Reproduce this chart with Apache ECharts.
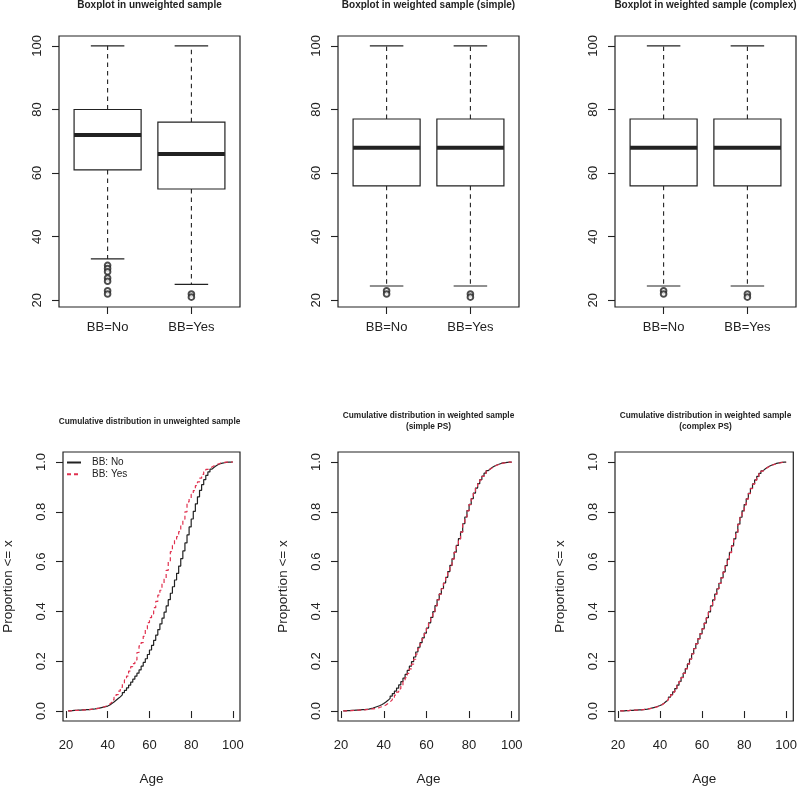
<!DOCTYPE html>
<html><head><meta charset="utf-8">
<script src="https://cdn.jsdelivr.net/npm/echarts@6/dist/echarts.min.js"></script>
<style>html,body{margin:0;padding:0;background:#fff}#c{width:800px;height:787px}</style>
</head><body><div id="c"></div>
<script>
// ---------- Data ----------
const boxCategories = ['BB=No', 'BB=Yes'];
const boxTitles = ['Boxplot in unweighted sample', 'Boxplot in weighted sample (simple)', 'Boxplot in weighted sample (complex)'];
// [lower whisker, Q1, median, Q3, upper whisker]
const boxUnweighted = [[33, 61, 72, 80, 100], [25, 55, 66, 76, 100]];
const boxWeightedSimple = [[24.5, 56, 68, 77, 100], [24.5, 56, 68, 77, 100]];
const boxWeightedComplex = [[24.5, 56, 68, 77, 100], [24.5, 56, 68, 77, 100]];
const outUnweighted = [[31, 30, 29, 27, 26, 23, 22], [22, 21]];
const outWeightedSimple = [[23, 22], [22, 21]];
const outWeightedComplex = [[23, 22], [22, 21]];
const boxYTicks = [20, 40, 60, 80, 100];

const cdfTitles = ['Cumulative distribution in unweighted sample',
  'Cumulative distribution in weighted sample\n(simple PS)',
  'Cumulative distribution in weighted sample\n(complex PS)'];
const seriesNames = ['BB: No', 'BB: Yes'];
const ages = [21,22,23,24,25,26,27,28,29,30,31,32,33,34,35,36,37,38,39,40,
  41,42,43,44,45,46,47,48,49,50,51,52,53,54,55,56,57,58,59,60,
  61,62,63,64,65,66,67,68,69,70,71,72,73,74,75,76,77,78,79,80,
  81,82,83,84,85,86,87,88,89,90,91,92,93,94,95,96,97,98,99,100];
const cdfUnweightedNo = [0.001,0.002,0.003,0.003,0.004,0.004,0.005,0.005,0.006,0.006,0.007,0.008,0.009,0.011,0.012,0.014,0.016,0.018,0.020,0.024,
  0.030,0.036,0.043,0.050,0.057,0.065,0.074,0.083,0.093,0.104,0.116,0.128,0.140,0.152,0.165,0.180,0.195,0.210,0.227,0.245,
  0.264,0.284,0.305,0.327,0.350,0.373,0.397,0.422,0.447,0.473,0.499,0.526,0.553,0.582,0.612,0.643,0.675,0.707,0.739,0.771,
  0.802,0.832,0.860,0.886,0.909,0.929,0.946,0.960,0.971,0.979,0.985,0.990,0.993,0.995,0.997,0.998,0.999,0.9995,0.9998,1.0];
const cdfUnweightedYes = [0.001,0.002,0.002,0.003,0.003,0.004,0.004,0.005,0.005,0.006,0.007,0.008,0.009,0.010,0.012,0.014,0.016,0.019,0.022,0.028,
  0.036,0.045,0.055,0.066,0.080,0.095,0.110,0.125,0.140,0.160,0.178,0.190,0.205,0.235,0.262,0.275,0.300,0.330,0.355,0.375,
  0.390,0.415,0.440,0.465,0.485,0.510,0.530,0.565,0.600,0.640,0.665,0.685,0.700,0.720,0.745,0.770,0.800,0.840,0.855,0.870,
  0.885,0.905,0.920,0.935,0.950,0.960,0.970,0.975,0.980,0.985,0.989,0.992,0.995,0.997,0.998,0.999,0.9995,0.9997,0.9999,1.0];
const cdfSimpleNo = [0.001,0.002,0.002,0.003,0.003,0.004,0.004,0.005,0.006,0.006,0.007,0.008,0.010,0.012,0.015,0.018,0.021,0.025,0.030,0.036,
  0.043,0.051,0.060,0.070,0.080,0.092,0.105,0.118,0.132,0.147,0.163,0.180,0.198,0.217,0.237,0.256,0.275,0.294,0.313,0.333,
  0.354,0.376,0.399,0.423,0.447,0.470,0.492,0.514,0.537,0.560,0.585,0.611,0.638,0.665,0.692,0.719,0.752,0.779,0.805,0.830,
  0.853,0.875,0.895,0.913,0.929,0.943,0.955,0.965,0.973,0.979,0.984,0.988,0.991,0.994,0.996,0.997,0.998,0.999,0.9995,1.0];
const cdfSimpleYes = [0.0005,0.001,0.0015,0.002,0.0025,0.003,0.0035,0.004,0.0045,0.005,0.006,0.007,0.008,0.009,0.010,0.012,0.014,0.017,0.020,0.024,
  0.030,0.037,0.045,0.054,0.064,0.076,0.089,0.103,0.118,0.134,0.151,0.169,0.188,0.208,0.229,0.251,0.271,0.291,0.311,0.331,
  0.353,0.375,0.398,0.422,0.446,0.469,0.491,0.513,0.536,0.559,0.584,0.610,0.637,0.664,0.691,0.718,0.751,0.778,0.804,0.829,
  0.852,0.874,0.894,0.912,0.928,0.942,0.954,0.964,0.972,0.978,0.983,0.987,0.990,0.993,0.995,0.997,0.998,0.999,0.9995,1.0];
const cdfComplexNo = [0.001,0.001,0.002,0.002,0.003,0.003,0.004,0.004,0.005,0.005,0.006,0.007,0.008,0.010,0.012,0.014,0.016,0.019,0.022,0.026,
  0.032,0.039,0.047,0.056,0.066,0.077,0.090,0.104,0.119,0.135,0.152,0.170,0.189,0.209,0.230,0.251,0.271,0.291,0.311,0.331,
  0.353,0.375,0.398,0.422,0.446,0.469,0.491,0.513,0.536,0.559,0.584,0.610,0.637,0.664,0.691,0.718,0.751,0.778,0.804,0.829,
  0.852,0.874,0.894,0.912,0.928,0.942,0.954,0.964,0.972,0.978,0.983,0.987,0.990,0.993,0.995,0.997,0.998,0.999,0.9995,1.0];
const cdfComplexYes = [0.001,0.001,0.002,0.002,0.003,0.003,0.004,0.004,0.005,0.005,0.006,0.007,0.008,0.010,0.011,0.013,0.016,0.018,0.021,0.025,
  0.031,0.038,0.046,0.055,0.065,0.076,0.089,0.103,0.118,0.134,0.151,0.169,0.188,0.208,0.229,0.250,0.270,0.290,0.310,0.330,
  0.352,0.374,0.397,0.421,0.445,0.468,0.490,0.512,0.535,0.558,0.583,0.609,0.636,0.663,0.690,0.717,0.750,0.777,0.803,0.828,
  0.851,0.873,0.893,0.911,0.927,0.941,0.953,0.963,0.971,0.977,0.982,0.986,0.989,0.992,0.994,0.996,0.998,0.999,0.9995,1.0];
const cdfXTicks = [20, 40, 60, 80, 100];
const cdfYTicks = [0, 0.2, 0.4, 0.6, 0.8, 1.0];

// ---------- Layout / style ----------
const FONT = 'Liberation Sans, Arial, sans-serif';
const INK = '#222';
const RED = '#E0314F';
const panelLeft = [59, 338, 615];
const panelWidth = 181;
const topRow = {top: 36, height: 271};
const botRow = {top: 452, height: 272};

const boxSets = [boxUnweighted, boxWeightedSimple, boxWeightedComplex];
const outSets = [outUnweighted, outWeightedSimple, outWeightedComplex];
const cdfSets = [[cdfUnweightedNo, cdfUnweightedYes], [cdfSimpleNo, cdfSimpleYes], [cdfComplexNo, cdfComplexYes]];

const grids = [], xAxes = [], yAxes = [], series = [], titles = [];

function renderBox(params, api) {
  const x = api.value(0);
  const lo = api.value(1), q1 = api.value(2), med = api.value(3), q3 = api.value(4), hi = api.value(5);
  const half = api.size([0.4, 0])[0];
  const cap = api.size([0.2, 0])[0];
  const pLo = api.coord([x, lo]), pQ1 = api.coord([x, q1]), pMed = api.coord([x, med]);
  const pQ3 = api.coord([x, q3]), pHi = api.coord([x, hi]);
  const cx = pMed[0];
  const dash = {stroke: INK, lineWidth: 1.1, lineDash: [4.5, 4]};
  const solid = {stroke: INK, lineWidth: 1.2};
  return {type: 'group', children: [
    {type: 'line', shape: {x1: cx, y1: pQ3[1], x2: cx, y2: pHi[1]}, style: dash},
    {type: 'line', shape: {x1: cx, y1: pQ1[1], x2: cx, y2: pLo[1]}, style: dash},
    {type: 'line', shape: {x1: cx - cap, y1: pHi[1], x2: cx + cap, y2: pHi[1]}, style: solid},
    {type: 'line', shape: {x1: cx - cap, y1: pLo[1], x2: cx + cap, y2: pLo[1]}, style: solid},
    {type: 'rect', shape: {x: cx - half, y: pQ3[1], width: 2 * half, height: pQ1[1] - pQ3[1]},
      style: {fill: '#fff', stroke: INK, lineWidth: 1.2}},
    {type: 'line', shape: {x1: cx - half, y1: pMed[1], x2: cx + half, y2: pMed[1]},
      style: {stroke: INK, lineWidth: 4}}
  ]};
}

for (let p = 0; p < 3; p++) {
  // ---- top boxplot panel (grid index p) ----
  const gi = p;
  grids[gi] = {left: panelLeft[p], width: panelWidth, top: topRow.top, height: topRow.height,
    show: true, borderColor: INK, borderWidth: 1.2, backgroundColor: 'transparent', containLabel: false};
  xAxes[gi] = {gridIndex: gi, type: 'value', min: 0.42, max: 2.58,
    axisLine: {show: false}, splitLine: {show: false},
    axisTick: {show: true, length: 7, customValues: [1, 2], lineStyle: {color: INK, width: 1.1}},
    axisLabel: {customValues: [1, 2], formatter: v => boxCategories[Math.round(v) - 1],
      fontSize: 13, fontFamily: FONT, color: INK, margin: 14}};
  yAxes[gi] = {gridIndex: gi, type: 'value', min: 17.9, max: 103.1,
    axisLine: {show: false}, splitLine: {show: false},
    axisTick: {show: true, length: 7, customValues: boxYTicks, lineStyle: {color: INK, width: 1.1}},
    axisLabel: {customValues: boxYTicks, rotate: 90, fontSize: 13, fontFamily: FONT, color: INK, margin: 15}};
  series.push({type: 'custom', xAxisIndex: gi, yAxisIndex: gi, renderItem: renderBox,
    encode: {x: 0, y: [1, 2, 3, 4, 5]}, silent: true,
    data: boxSets[p].map((b, i) => [i + 1].concat(b))});
  const outData = [];
  outSets[p].forEach((arr, i) => arr.forEach(v => outData.push([i + 1, v])));
  series.push({type: 'scatter', xAxisIndex: gi, yAxisIndex: gi, symbol: 'emptyCircle', symbolSize: 5.6,
    itemStyle: {color: INK, borderColor: INK, borderWidth: 1}, data: outData, silent: true, z: 5});
  titles.push({text: boxTitles[p], left: panelLeft[p] + panelWidth / 2, top: -1, textAlign: 'center', padding: 0,
    textStyle: {fontSize: 10, fontWeight: 'bold', fontFamily: FONT, color: INK, lineHeight: 12}});

  // ---- bottom CDF panel (grid index p + 3) ----
  const gj = p + 3;
  grids[gj] = {left: panelLeft[p], width: panelWidth, top: botRow.top, height: botRow.height,
    show: true, borderColor: INK, borderWidth: 1.2, backgroundColor: 'transparent', containLabel: false};
  xAxes[gj] = {gridIndex: gj, type: 'value', min: 18.55, max: 103.4,
    name: 'Age', nameLocation: 'middle', nameGap: 51,
    nameTextStyle: {fontSize: 13.5, fontFamily: FONT, color: INK},
    axisLine: {show: false}, splitLine: {show: false},
    axisTick: {show: true, length: 7, customValues: cdfXTicks, lineStyle: {color: INK, width: 1.1}},
    axisLabel: {customValues: cdfXTicks, fontSize: 13, fontFamily: FONT, color: INK, margin: 18}};
  yAxes[gj] = {gridIndex: gj, type: 'value', min: -0.04, max: 1.04,
    name: 'Proportion <= x', nameLocation: 'middle', nameGap: 48, nameRotate: 90,
    nameTextStyle: {fontSize: 13.5, fontFamily: FONT, color: INK},
    axisLine: {show: false}, splitLine: {show: false},
    axisTick: {show: true, length: 7, customValues: cdfYTicks, lineStyle: {color: INK, width: 1.1}},
    axisLabel: {customValues: cdfYTicks, rotate: 90, formatter: v => v.toFixed(1),
      fontSize: 13, fontFamily: FONT, color: INK, margin: 15}};
  cdfSets[p].forEach((vals, k) => {
    series.push({name: seriesNames[k], type: 'line', step: 'end', xAxisIndex: gj, yAxisIndex: gj,
      symbol: 'none', showSymbol: false, silent: true, animation: false,
      color: k === 0 ? INK : RED,
      lineStyle: {color: k === 0 ? INK : RED, width: 1.2, type: k === 0 ? 'solid' : [4, 3]},
      z: k === 0 ? 2 : 3,
      data: ages.map((a, i) => [a, vals[i]])});
  });
  const twoLine = cdfTitles[p].indexOf('\n') >= 0;
  titles.push({text: cdfTitles[p], left: panelLeft[p] + panelWidth / 2, top: twoLine ? 409.5 : 415.5,
    textAlign: 'center', padding: 0,
    textStyle: {fontSize: 8.3, fontWeight: 'bold', fontFamily: FONT, color: INK, lineHeight: 11.5}});
}

const chart = echarts.init(document.getElementById('c'), null, {renderer: 'canvas', width: 800, height: 787});
chart.setOption({
  animation: false,
  backgroundColor: '#fff',
  title: titles,
  grid: grids,
  xAxis: xAxes,
  yAxis: yAxes,
  legend: {data: seriesNames, orient: 'vertical', left: 66, top: 457.5, itemWidth: 14, itemHeight: 10, itemGap: 1.7,
    padding: 0, selectedMode: false, itemStyle: {opacity: 0},
    textStyle: {fontSize: 10, fontFamily: FONT, color: INK, lineHeight: 10, padding: [0, 0, 0, 6]}},
  series: series
});
</script></body></html>
